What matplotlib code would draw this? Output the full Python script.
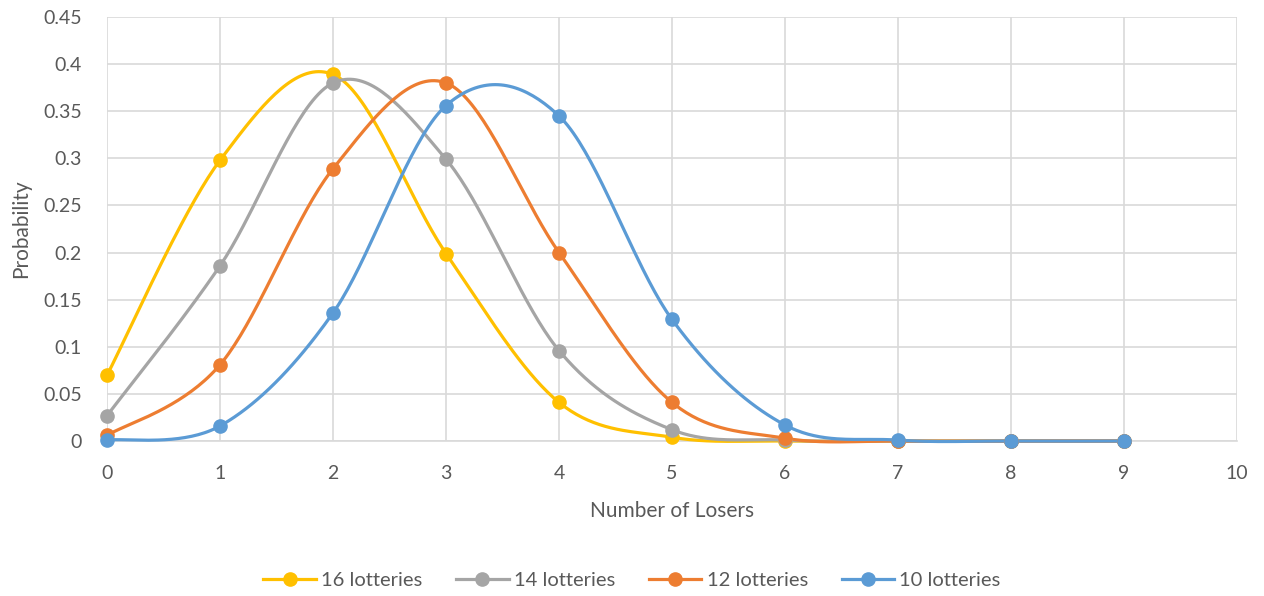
import numpy as np
import matplotlib
matplotlib.use("Agg")
import matplotlib.pyplot as plt
from matplotlib.ticker import FuncFormatter, MultipleLocator

plt.rcParams['font.family'] = ['Lato', 'DejaVu Sans']

losers = [0, 1, 2, 3, 4, 5, 6, 7, 8, 9]
series_names = ["16 lotteries", "14 lotteries", "12 lotteries", "10 lotteries"]
p16 = [0.070, 0.298, 0.389, 0.199, 0.041, 0.004, 0.000, 0.000, 0.000, 0.000]
p14 = [0.027, 0.186, 0.380, 0.299, 0.096, 0.012, 0.001, 0.000, 0.000, 0.000]
p12 = [0.006, 0.081, 0.289, 0.380, 0.200, 0.041, 0.003, 0.000, 0.000, 0.000]
p10 = [0.001, 0.016, 0.136, 0.356, 0.345, 0.129, 0.017, 0.001, 0.000, 0.000]
colors = ["#FFC000", "#A5A5A5", "#ED7D31", "#5B9BD5"]

TEXT = "#595959"
GRID = "#D9D9D9"


def smooth(xs, ys, n=40):
    """Bezier smoothing through every point (cardinal spline, tension 1/6)."""
    xs = np.asarray(xs, float)
    ys = np.asarray(ys, float)
    px = np.concatenate([[xs[0]], xs, [xs[-1]]])
    py = np.concatenate([[ys[0]], ys, [ys[-1]]])
    outx, outy = [], []
    t = np.linspace(0, 1, n)
    for i in range(1, len(px) - 2):
        x0, x1, x2, x3 = px[i - 1], px[i], px[i + 1], px[i + 2]
        y0, y1, y2, y3 = py[i - 1], py[i], py[i + 1], py[i + 2]
        c1x, c1y = x1 + (x2 - x0) / 6, y1 + (y2 - y0) / 6
        c2x, c2y = x2 - (x3 - x1) / 6, y2 - (y3 - y1) / 6
        bx = (1 - t) ** 3 * x1 + 3 * (1 - t) ** 2 * t * c1x + 3 * (1 - t) * t ** 2 * c2x + t ** 3 * x2
        by = (1 - t) ** 3 * y1 + 3 * (1 - t) ** 2 * t * c1y + 3 * (1 - t) * t ** 2 * c2y + t ** 3 * y2
        outx.append(bx)
        outy.append(by)
    return np.concatenate(outx), np.concatenate(outy)


fig = plt.figure(figsize=(12.64, 5.96), dpi=100)
ax = fig.add_axes([0.0847, 0.260, 0.8939, 0.7115])

for name, vals, c in zip(series_names, [p16, p14, p12, p10], colors):
    sx, sy = smooth(losers, vals)
    ax.plot(sx, sy, color=c, lw=2.3, solid_capstyle='round', zorder=3, clip_on=False)
    ax.plot(losers, vals, 'o', color=c, ms=9.5, zorder=4, clip_on=False)
    ax.plot([], [], '-o', color=c, lw=2.3, ms=9.5, label=name)

ax.set_xlim(0, 10)
ax.set_ylim(0, 0.45)
ax.xaxis.set_major_locator(MultipleLocator(1))
ax.yaxis.set_major_locator(MultipleLocator(0.05))
ax.yaxis.set_major_formatter(FuncFormatter(lambda v, p: f"{round(v, 2):g}"))
ax.grid(True, color=GRID, lw=1.2, zorder=0)
ax.set_axisbelow(True)
for s in ["top", "right", "left"]:
    ax.spines[s].set_visible(False)
ax.spines["bottom"].set_color(GRID)
ax.spines["bottom"].set_linewidth(1.2)
ax.tick_params(length=0, labelsize=14, colors=TEXT)
ax.tick_params(axis='x', pad=17)
ax.tick_params(axis='y', pad=18)
ax.set_xlabel("Number of Losers", fontsize=15, color=TEXT, labelpad=14)
ax.set_ylabel("Probability", fontsize=15, color=TEXT, labelpad=9)

fig.legend(loc='center', bbox_to_anchor=(0.5, 0.026), ncol=4, frameon=False,
           fontsize=14.5, handlelength=2.6, columnspacing=1.7, handletextpad=0.25,
           labelcolor=TEXT)

fig.savefig("out.png", dpi=100)
